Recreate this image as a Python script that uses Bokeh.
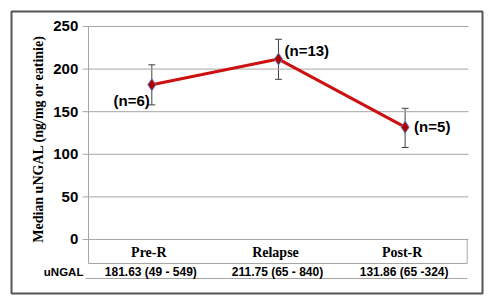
from bokeh.plotting import figure
from bokeh.models import Range1d, ColumnDataSource, Whisker
from bokeh.core.properties import value
from bokeh.embed import file_html
from bokeh.resources import INLINE

categories = ["Pre-R", "Relapse", "Post-R"]
medians = [181.63, 211.75, 131.86]
err_upper = [205, 235, 154]
err_lower = [158, 188, 108]
n_labels = ["(n=6)", "(n=13)", "(n=5)"]
table_values = ["181.63 (49 - 549)", "211.75 (65 - 840)", "131.86 (65 -324)"]
table_row_label = "uNGAL"
y_ticks = [0, 50, 100, 150, 200, 250]
y_title = "Median uNGAL (ng/mg or eatinie)"

idx = list(range(len(categories)))

p = figure(width=484, height=295, output_backend="svg", toolbar_location=None,
           x_axis_type=None, y_axis_type=None,
           x_range=Range1d(-1.108, 2.611), y_range=Range1d(-63.4, 267.6),
           min_border_left=11, min_border_right=2, min_border_top=11, min_border_bottom=2)
p.xgrid.visible = False
p.ygrid.visible = False
p.outline_line_color = "#555555"
p.outline_line_width = 2
p.background_fill_color = "white"
p.border_fill_color = "white"

# gridlines (with outward tick stubs)
p.segment(x0=[-0.547] * len(y_ticks), x1=[2.5] * len(y_ticks), y0=y_ticks, y1=y_ticks,
          line_color="#a6a6a6", line_width=1)
# y axis line down into category box
p.segment(x0=[-0.5], x1=[-0.5], y0=[250], y1=[-28.2], line_color="#a6a6a6", line_width=1)
# category box
p.segment(x0=[-0.5, 2.49], x1=[2.49, 2.49], y0=[-28.2, 0], y1=[-28.2, -28.2],
          line_color="#a6a6a6", line_width=1)
# line under table row
p.segment(x0=[-0.524], x1=[2.49], y0=[-45.8], y1=[-45.8], line_color="#a6a6a6", line_width=1)

# y tick labels
p.text(x=[-0.581] * len(y_ticks), y=y_ticks, text=[str(t) for t in y_ticks],
       text_align="right", text_baseline="middle", text_font=value("Liberation Sans"),
       text_font_style="bold", text_font_size="15px", text_color="#000000")
# y title
p.text(x=[-0.895], y=[118], text=[y_title], angle=1.5708, text_align="center",
       text_baseline="middle", text_font=value("Liberation Serif"), text_font_style="bold",
       text_font_size="14px", text_color="#000000")
# category labels
p.text(x=idx, y=[-15.3] * 3, text=categories, x_offset=-3, text_align="center",
       text_baseline="middle", text_font=value("Liberation Serif"), text_font_style="bold",
       text_font_size="14px", text_color="#000000")
# table row
p.text(x=idx, y=[-37.6] * 3, text=table_values, x_offset=-1, text_align="center",
       text_baseline="middle", text_font=value("Liberation Sans"), text_font_style="bold",
       text_font_size="12px", text_color="#000000")
p.text(x=[-0.54], y=[-37.6], text=[table_row_label], text_align="right", text_baseline="middle",
       text_font=value("Liberation Sans"), text_font_style="bold", text_font_size="11.5px",
       text_color="#000000")

# error bars
src = ColumnDataSource(dict(x=idx, upper=err_upper, lower=err_lower, y=medians))
w = Whisker(base="x", upper="upper", lower="lower", source=src, line_color="#404040",
            line_width=1)
w.upper_head.size = 7
w.lower_head.size = 7
w.upper_head.line_color = "#404040"
w.lower_head.line_color = "#404040"
p.add_layout(w)

# line and markers
p.line(x=idx, y=medians, line_color="#cc1111", line_width=3)
p.scatter(x=idx, y=medians, marker="diamond", size=12, fill_color="#b00000",
          line_color="#5a78c0", line_width=1)

# n labels
p.text(x=[idx[0]], y=[medians[0]], text=[n_labels[0]], x_offset=-2, y_offset=16,
       text_align="right", text_baseline="middle", text_font=value("Liberation Sans"),
       text_font_style="bold", text_font_size="15px", text_color="#000000")
p.text(x=[idx[1]], y=[medians[1]], text=[n_labels[1]], x_offset=6, y_offset=-9,
       text_align="left", text_baseline="middle", text_font=value("Liberation Sans"),
       text_font_style="bold", text_font_size="15px", text_color="#000000")
p.text(x=[idx[2]], y=[medians[2]], text=[n_labels[2]], x_offset=9, y_offset=-1,
       text_align="left", text_baseline="middle", text_font=value("Liberation Sans"),
       text_font_style="bold", text_font_size="15px", text_color="#000000")

open("out.html", "w").write(file_html(p, INLINE))
